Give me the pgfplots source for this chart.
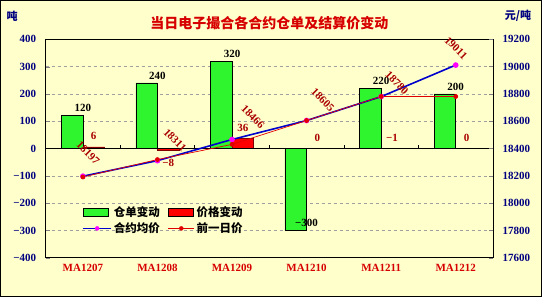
\documentclass[border=0pt]{standalone}
\usepackage{pgfplots}
\pgfplotsset{compat=1.18}
\usepackage{fontspec}
\setmainfont{Liberation Serif}
\newfontfamily\cjk{Noto Sans CJK SC}
\definecolor{bg}{RGB}{255,255,204}
\definecolor{navy}{RGB}{0,0,128}
\definecolor{dred}{RGB}{170,0,0}
\definecolor{cred}{RGB}{215,0,0}
\definecolor{gbar}{RGB}{46,245,46}
\definecolor{rbar}{RGB}{255,0,0}
\definecolor{rbord}{RGB}{128,0,0}
\definecolor{bline}{RGB}{0,0,204}
\definecolor{mag}{RGB}{255,0,255}
\definecolor{rline}{RGB}{225,0,0}
\definecolor{gridc}{RGB}{160,160,160}
\begin{document}
\begin{tikzpicture}
\useasboundingbox (-45.6pt,-39.3pt) rectangle (496.4pt,257.7pt);
\fill[bg] (-45.6pt,-39.3pt) rectangle (496.4pt,257.7pt);
\draw[black,line width=1.2pt] (-45.0pt,-38.7pt) rectangle (495.8pt,257.1pt);

\begin{axis}[
  scale only axis, width=447.4pt, height=218.4pt,
  at={(0pt,0pt)}, anchor=south west,
  xmin=-0.5, xmax=5.5, ymin=-400, ymax=400,
  clip=false,
  axis line style={black, line width=0.6pt},
  xtick={0,1,2,3,4,5},
  xticklabels={MA1207,MA1208,MA1209,MA1210,MA1211,MA1212},
  xtick pos=bottom,
  major x tick style={draw=none},
  ytick={-400,-300,-200,-100,0,100,200,300,400},
  yticklabels={−400,−300,−200,−100,0,100,200,300,400},
  ytick pos=left, tick align=inside, major tick length=4pt,
  ymajorgrids,
  grid style={gridc, dash pattern=on 3pt off 3pt, line width=0.5pt},
  yticklabel style={font=\bfseries\fontsize{11}{12}\selectfont, text=navy, xshift=-6pt},
  xticklabel style={font=\bfseries\fontsize{11}{12}\selectfont, text=cred, yshift=-3pt},
]
\addplot[ybar, bar width=0.29, bar shift=-0.145, fill=gbar, draw=black, line width=0.6pt,
  nodes near coords, point meta=explicit symbolic,
  nodes near coords style={font=\bfseries\fontsize{11}{12}\selectfont, text=black}]
  coordinates {(0,120)[120] (1,240)[240] (2,320)[320] (3,-300)[−300] (4,220)[220] (5,200)[200]};
\addplot[ybar, bar width=0.29, bar shift=0.145, fill=rbar, draw=rbord, line width=0.6pt]
  coordinates {(0,6) (1,-8) (2,36) (3,0) (4,-1) (5,0)};
\addplot[black, line width=0.6pt] coordinates {(-0.5,0) (5.5,0)};
\addplot[black, line width=0.6pt, unbounded coords=jump]
  coordinates {(0.5,0) (0.5,13) (1,nan) (1.5,0) (1.5,13) (2,nan) (2.5,0) (2.5,13) (3,nan) (3.5,0) (3.5,13) (4,nan) (4.5,0) (4.5,13)};
\addplot[draw=none, nodes near coords, point meta=explicit symbolic,
  nodes near coords align=center,
  every node near coord/.append style={anchor=center, text=dred, font=\bfseries\fontsize{11}{12}\selectfont}]
  coordinates {(0.145,47)[6] (1.145,-51)[−8] (2.145,77)[36] (3.145,40)[0] (4.145,40)[−1] (5.145,40)[0]};
\end{axis}

\begin{axis}[
  scale only axis, width=447.4pt, height=218.4pt,
  at={(0pt,0pt)}, anchor=south west,
  xmin=-0.5, xmax=5.5, ymin=17600, ymax=19200,
  clip=false,
  axis x line=none, axis y line*=right,
  axis line style={black, line width=0.6pt},
  ytick={17600,17800,18000,18200,18400,18600,18800,19000,19200},
  scaled y ticks=false,
  tick align=inside, major tick length=4pt,
  /pgf/number format/assume math mode=true,
  /pgf/number format/1000 sep={},
  yticklabel style={font=\bfseries\fontsize{11}{12}\selectfont, text=navy, xshift=6pt},
  legend columns=2,
  legend cell align=left,
  legend style={at={(rel axis cs:0.075,0.255)}, anchor=north west, draw=none, fill=none,
    font=\cjk\bfseries\fontsize{11.5}{13}\selectfont, row sep=1pt,
    /tikz/every even column/.append style={column sep=6pt}},
]
\addlegendimage{legend image code/.code={\draw[fill=gbar,draw=black,line width=0.6pt] (0pt,-4pt) rectangle (25pt,4pt);}}
\addlegendentry{仓单变动}
\addlegendimage{legend image code/.code={\draw[fill=rbar,draw=black,line width=0.6pt] (0pt,-4pt) rectangle (25pt,4pt);}}
\addlegendentry{价格变动}
\addlegendimage{legend image code/.code={\draw[bline,line width=1.6pt] (0pt,0pt) -- (28pt,0pt); \fill[mag] (14pt,0pt) circle (2pt);}}
\addlegendentry{合约均价}
\addlegendimage{legend image code/.code={\draw[rline,line width=0.7pt] (0pt,0pt) -- (26pt,0pt); \fill[rline] (13pt,0pt) circle (2pt);}}
\addlegendentry{前一日价}

\addplot[bline, line width=1.6pt, mark=*, mark size=2pt, mark options={fill=mag, draw=mag}, forget plot]
  coordinates {(0,18197) (1,18311) (2,18466) (3,18605) (4,18780) (5,19011)};
\addplot[rline, line width=0.7pt, mark=*, mark size=2pt, mark options={fill=rline, draw=rline}, forget plot]
  coordinates {(0,18191) (1,18319) (2,18430) (3,18605) (4,18781) (5,18781)};
\addplot[draw=none, nodes near coords, point meta=explicit symbolic,
  nodes near coords align=center, forget plot,
  every node near coord/.append style={anchor=center, rotate=-45, text=dred, font=\bfseries\fontsize{11}{12}\selectfont}]
  coordinates {(0.069,18367)[18197] (1.235,18462)[18311] (2.281,18631)[18466] (3.219,18755)[18605] (4.212,18880)[18780] (5.003,19136)[19011]};

\node[text=cred, font=\cjk\bfseries\fontsize{14}{16}\selectfont] at (rel axis cs:0.5,1.075) {当日电子撮合各合约仓单及结算价变动};
\node[text=navy, font=\cjk\bfseries\fontsize{11}{12}\selectfont] at (rel axis cs:-0.075,1.107) {吨};
\node[text=navy, font=\cjk\bfseries\fontsize{11}{12}\selectfont] at (rel axis cs:1.056,1.107) {元/吨};
\end{axis}
\end{tikzpicture}
\end{document}
